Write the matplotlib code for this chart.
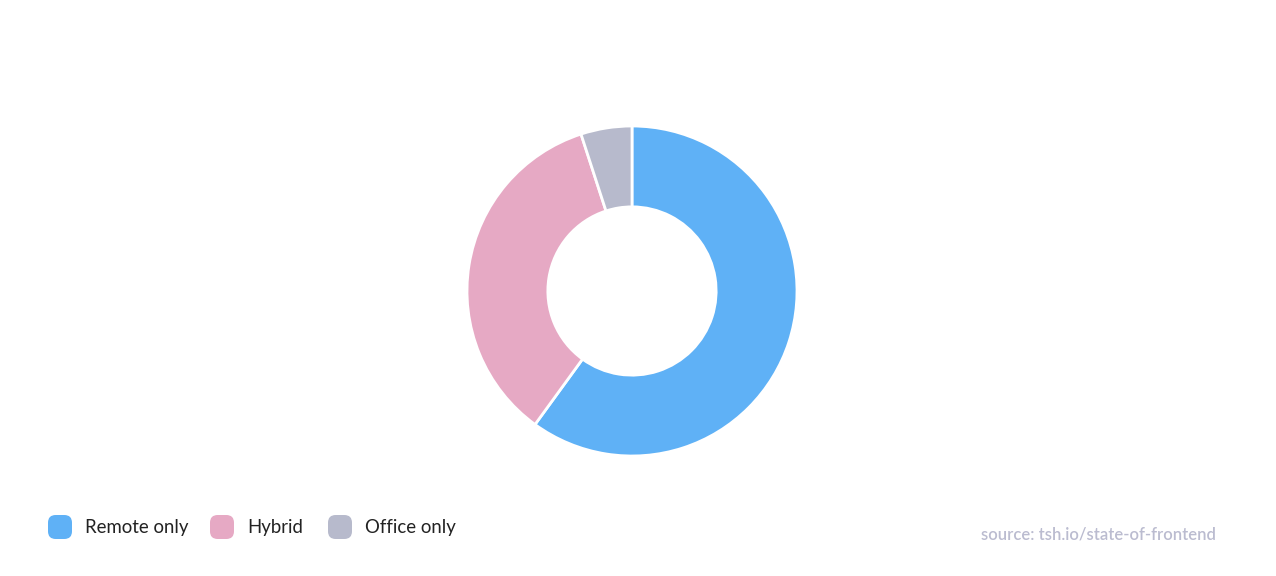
import matplotlib
matplotlib.use("Agg")
import matplotlib.pyplot as plt
from matplotlib.patches import FancyBboxPatch

labels = ["Remote only", "Hybrid", "Office only"]
values = [60, 35, 5]
colors = ["#5FB1F6", "#E6A9C4", "#B7BACC"]
source = "source: tsh.io/state-of-frontend"

W, H = 1276, 576
fig = plt.figure(figsize=(W / 100, H / 100), dpi=100)
fig.patch.set_facecolor("white")
plt.rcParams['font.family'] = ['Lato', 'DejaVu Sans']

cx, cy, R = 632, 291, 165
ax = fig.add_axes([(cx - R) / W, (H - cy - R) / H, 2 * R / W, 2 * R / H])
ax.pie(values, colors=colors, startangle=90, counterclock=False, radius=1,
       wedgeprops=dict(width=0.49, edgecolor="white", linewidth=2))
ax.set_xlim(-1, 1)
ax.set_ylim(-1, 1)
ax.set_aspect("equal")
ax.axis("off")

# legend
xs = [48, 210, 328]
for x, lab, col in zip(xs, labels, colors):
    box = FancyBboxPatch(((x) / W, (H - 539) / H), 24 / W, 24 / H,
                         boxstyle="round,pad=0,rounding_size=0.006",
                         transform=fig.transFigure, facecolor=col, edgecolor="none",
                         mutation_aspect=W / H)
    fig.patches.append(box)
    fig.text((x + 37) / W, (H - 527) / H, lab, fontsize=13.4, color="#222222",
             va="center", ha="left")

fig.text(1216 / W, (H - 534) / H, source, fontsize=12, color="#BBBCD0",
         va="center", ha="right", fontweight="semibold")

fig.savefig("out.png", dpi=100, facecolor="white")
